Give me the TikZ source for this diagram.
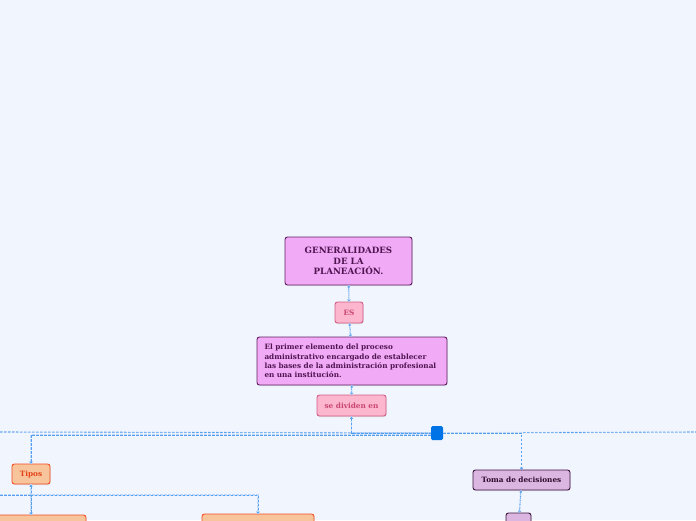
\documentclass[tikz,border=0pt]{standalone}
\usepackage{fontspec}
\setmainfont{DejaVu Serif}
\usepackage{tikz}
\usetikzlibrary{arrows.meta,positioning,calc,shadows}

\definecolor{bgblue}{RGB}{241,245,254}
\definecolor{linkblue}{RGB}{85,160,238}
\definecolor{halo}{RGB}{190,215,248}
\definecolor{hubblue}{RGB}{0,115,230}
\definecolor{violetfill}{RGB}{240,170,246}
\definecolor{violetline}{RGB}{95,30,95}
\definecolor{violettext}{RGB}{80,20,80}
\definecolor{pinkfill}{RGB}{252,182,206}
\definecolor{pinkline}{RGB}{212,92,132}
\definecolor{pinktext}{RGB}{200,70,112}
\definecolor{lilacfill}{RGB}{218,182,224}
\definecolor{lilacline}{RGB}{60,20,60}
\definecolor{lilactext}{RGB}{45,12,45}
\definecolor{peachfill}{RGB}{248,196,156}
\definecolor{peachline}{RGB}{242,78,34}
\definecolor{peachtext}{RGB}{228,66,22}

\begin{document}
\begin{tikzpicture}[x=1pt,y=-1pt,
    font=\bfseries\fontsize{7.3}{9.4}\selectfont,
    box/.style={rounded corners=2.5pt, line width=0.9pt, inner sep=0pt, align=center,
        drop shadow={opacity=0.2,shadow xshift=0.6pt,shadow yshift=-1pt}},
    topic/.style={box, fill=violetfill, draw=violetline, text=violettext},
    tag/.style={box, fill=pinkfill, draw=pinkline, text=pinktext},
    branch/.style={box, fill=lilacfill, draw=lilacline, text=lilactext},
    kind/.style={box, fill=peachfill, draw=peachline, text=peachtext},
    link/.style={linkblue, line width=0.6pt, dash pattern=on 2.5pt off 1.5pt,
        {Latex[length=2pt,width=3pt]}-{Straight Barb[length=1.5pt,width=3pt]},
        preaction={draw=halo, line width=1.6pt, dash pattern=on 2.5pt off 1.5pt, -}},
    wire/.style={linkblue, line width=0.6pt, dash pattern=on 2.5pt off 1.5pt,
        preaction={draw=halo, line width=1.6pt, dash pattern=on 2.5pt off 1.5pt}}]

    % page and background
    \fill[bgblue] (0,0) rectangle (696,520);
    \clip (0,0) rectangle (696,520);

    % main column
    \node[topic, minimum width=127pt, minimum height=48pt, font=\bfseries\fontsize{8.7}{10.8}\selectfont]
        (gen) at (348.5,261) {GENERALIDADES\\DE LA\\PLANEACIÓN.};
    \node[tag, minimum width=28pt, minimum height=21pt] (es) at (349,312.5) {ES};
    \node[topic, minimum width=190pt, minimum height=48pt, text width=175pt, align=left]
        (def) at (352,361) {El primer elemento del proceso\\administrativo encargado de establecer\\las bases de la administración profesional\\en una institución.};
    \node[tag, minimum width=69pt, minimum height=21pt] (sediv) at (351.5,405.5) {se dividen en};

    % hub
    \node[fill=hubblue, rounded corners=1.5pt, minimum width=12pt, minimum height=14pt, inner sep=0pt]
        (hub) at (437,433) {};
    \coordinate (offL) at (0,432);
    \coordinate (offR) at (696,432);
    \coordinate (offL2) at (0,495);

    % branches
    \node[branch, minimum width=97pt, minimum height=20pt] (toma) at (521.5,480) {Toma de decisiones};
    \node[branch, minimum width=25pt, minimum height=30pt] (tomasub) at (518.5,528) {};
    \node[kind, minimum width=38pt, minimum height=20pt] (tipos) at (31,474) {Tipos};
    \node[kind, minimum width=110pt, minimum height=30pt] (tipoA) at (31,530) {};
    \node[kind, minimum width=112pt, minimum height=30pt] (tipoB) at (258,529) {};

    % connectors
    \draw[link] (gen) -- (es);
    \draw[link] (es) -- (def);
    \draw[link] (def) -- (sediv);
    \draw[wire] (offL) -- (hub.west);
    \draw[wire] (hub.east) -- (offR);
    \draw[link, {Latex[length=2.5pt,width=3.5pt]}-] (sediv.south) |- (hub.west);
    \draw[link, -{Straight Barb[length=1.5pt,width=3pt]}] ([yshift=-2pt]hub.west) -| (tipos.north);
    \draw[link, -{Straight Barb[length=1.5pt,width=3pt]}] (hub.east) -| (toma.north);
    \draw[link] (toma) -- (tomasub);
    \draw[link] (tipos) -- (tipoA);
    \draw[wire] (offL2) -- (tipos.south |- offL2);
    \draw[link, {Latex[length=2.5pt,width=3.5pt]}-{Straight Barb[length=1.5pt,width=3pt]}]
        (tipos.south) -- (tipos.south |- offL2) -| (tipoB.north);
\end{tikzpicture}
\end{document}
